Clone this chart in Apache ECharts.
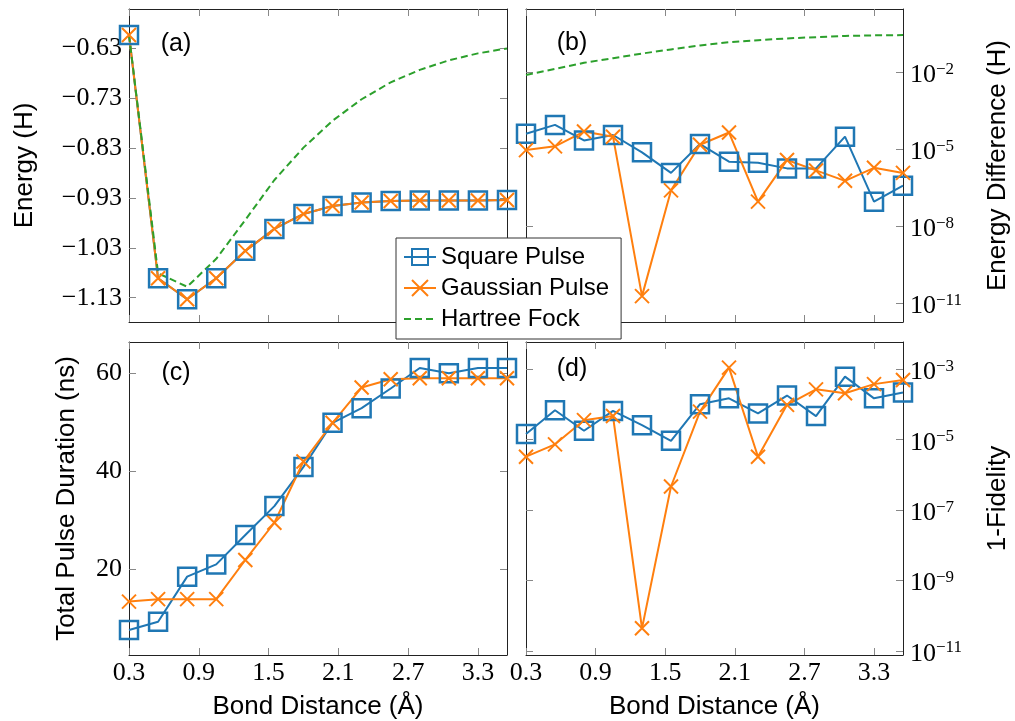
<!DOCTYPE html>
<html>
<head>
<meta charset="utf-8">
<script src="https://cdn.jsdelivr.net/npm/echarts@6/dist/echarts.min.js"></script>
<style>
  html, body { margin: 0; padding: 0; background: #fff; }
  #main { width: 1015px; height: 721px; }
</style>
</head>
<body>
<div id="main"></div>
<script>
// bond distance (Angstrom) shared by all four panels
var bondDistance = [0.3, 0.55, 0.8, 1.05, 1.3, 1.55, 1.8, 2.05, 2.3, 2.55, 2.8, 3.05, 3.3, 3.55];

// (a) energy (H)
var energySquare   = [-0.603, -1.091, -1.133, -1.091, -1.036, -0.992, -0.962, -0.946, -0.939, -0.936, -0.935, -0.935, -0.935, -0.934];
var energyGaussian = [-0.603, -1.091, -1.133, -1.091, -1.036, -0.992, -0.962, -0.946, -0.939, -0.936, -0.935, -0.935, -0.935, -0.934];
var energyHF       = [-0.603, -1.081, -1.108, -1.052, -0.974, -0.894, -0.829, -0.775, -0.732, -0.698, -0.673, -0.654, -0.640, -0.630];

// (b) energy difference (H), log scale
var diffSquare   = [4.0e-5, 8.9e-5, 2.2e-5, 3.6e-5, 7.6e-6, 1.2e-6, 1.6e-5, 3.3e-6, 3.0e-6, 1.8e-6, 1.8e-6, 3.1e-5, 9.1e-8, 3.8e-7];
var diffGaussian = [9.3e-6, 1.3e-5, 4.9e-5, 3.1e-5, 1.9e-11, 2.5e-7, 1.5e-5, 4.5e-5, 9.1e-8, 3.8e-6, 1.5e-6, 5.9e-7, 1.9e-6, 1.2e-6];
var diffHF       = [7.9e-3, 1.35e-2, 2.34e-2, 3.55e-2, 5.37e-2, 7.8e-2, 0.111, 0.149, 0.177, 0.209, 0.234, 0.261, 0.275, 0.282];

// (c) total pulse duration (ns)
var durationSquare   = [7.6, 9.3, 18.5, 21.0, 27.0, 32.9, 40.9, 49.9, 52.9, 56.9, 61.1, 60.0, 61.1, 61.1];
var durationGaussian = [13.4, 13.9, 13.9, 13.9, 21.9, 29.5, 42.0, 49.9, 57.1, 58.8, 59.0, 59.0, 59.0, 59.0];

// (d) 1 - fidelity, log scale
var infidSquare   = [1.45e-5, 6.9e-5, 1.8e-5, 6.6e-5, 2.6e-5, 9.3e-6, 1.02e-4, 1.5e-4, 5.6e-5, 1.8e-4, 4.7e-5, 6.2e-4, 1.5e-4, 2.2e-4];
var infidGaussian = [3.3e-6, 7.4e-6, 3.6e-5, 4.7e-5, 4.4e-11, 4.7e-7, 6.3e-5, 1.12e-3, 3.3e-6, 9.8e-5, 2.7e-4, 2.1e-4, 3.8e-4, 5.0e-4];

// tick labels
var xTicks = [0.3, 0.9, 1.5, 2.1, 2.7, 3.3];
var energyTicks = [-1.13, -1.03, -0.93, -0.83, -0.73, -0.63];
var durationTicks = [20, 40, 60];
var diffExpTicks = [-11, -8, -5, -2];
var infidExpTicks = [-11, -9, -7, -5, -3];

var BLUE = '#1f77b4', ORANGE = '#ff7f0e', GREEN = '#2ca02c';
var SERIF = '"Liberation Serif", serif';
var SANS = '"Liberation Sans", sans-serif';

var grids = [
  {left: 129, top: 9, width: 378, height: 313},
  {left: 526, top: 9, width: 377, height: 313},
  {left: 129, top: 342, width: 378, height: 313},
  {left: 526, top: 342, width: 377, height: 313}
];

function pairs(ys, log) {
  return bondDistance.map(function (x, i) {
    return [x, log ? Math.log10(ys[i]) : ys[i]];
  });
}

function powerLabel(v) {
  return '{b|10}{s|\u2212' + Math.abs(v) + '}';
}

function xAxis(g, pos, showLabel) {
  return {
    type: 'value', gridIndex: g, position: pos, min: 0.3, max: 3.55,
    name: showLabel ? 'Bond Distance (Å)' : '', nameLocation: 'middle', nameGap: 39,
    nameTextStyle: {fontFamily: SANS, fontSize: 26, color: '#000'},
    axisLine: {onZero: false, lineStyle: {color: '#222', width: 1}},
    axisTick: {inside: true, length: 7, customValues: xTicks, lineStyle: {color: '#888'}},
    axisLabel: {show: showLabel, customValues: xTicks, margin: 5, fontFamily: SERIF, fontSize: 26, color: '#000',
      formatter: function (v) { return v.toFixed(1); }},
    splitLine: {show: false}
  };
}

function yAxis(g, pos, min, max, ticks, opts) {
  opts = opts || {};
  var label = {show: !!opts.label, customValues: ticks, margin: 7, fontFamily: SERIF, fontSize: 26, color: '#000'};
  if (opts.log) {
    label.formatter = powerLabel;
    label.padding = [6, 0, 0, 0];
    label.rich = {
      b: {fontFamily: SERIF, fontSize: 26, lineHeight: 26, color: '#000'},
      s: {fontFamily: SERIF, fontSize: 17, lineHeight: 17, color: '#000', padding: [0, 0, 12, 0]}
    };
  } else if (opts.fixed) {
    label.formatter = function (v) { return (v < 0 ? '\u2212' : '') + Math.abs(v).toFixed(opts.fixed); };
  }
  return {
    type: 'value', gridIndex: g, position: pos, min: min, max: max,
    name: opts.name || '', nameLocation: 'middle', nameRotate: 90, nameGap: opts.gap || 50,
    nameTextStyle: {fontFamily: SANS, fontSize: 26, color: '#000'},
    axisLine: {show: true, onZero: false, lineStyle: {color: '#222', width: 1}},
    axisTick: {show: true, inside: true, length: 7, customValues: ticks, lineStyle: {color: '#888'}},
    axisLabel: label,
    splitLine: {show: false}
  };
}

function squareSeries(x, y, data) {
  return {
    name: 'Square Pulse', type: 'line', xAxisIndex: x, yAxisIndex: y, data: data,
    symbol: 'rect', symbolSize: 18,
    lineStyle: {color: BLUE, width: 2},
    itemStyle: {color: 'rgba(0,0,0,0)', borderColor: BLUE, borderWidth: 2.5}
  };
}
function gaussSeries(x, y, data) {
  return {
    name: 'Gaussian Pulse', type: 'line', xAxisIndex: x, yAxisIndex: y, data: data,
    symbol: 'path://M0,0L10,10M10,0L0,10', symbolSize: 14,
    lineStyle: {color: ORANGE, width: 2},
    itemStyle: {color: ORANGE, borderColor: ORANGE, borderWidth: 2}
  };
}
function hfSeries(x, y, data) {
  // symbol kept only so the legend icon is a bare dashed line
  return {
    name: 'Hartree Fock', type: 'line', xAxisIndex: x, yAxisIndex: y, data: data,
    symbol: 'rect', symbolSize: 1, showSymbol: false,
    lineStyle: {color: GREEN, width: 2, type: [7, 4]},
    itemStyle: {color: 'rgba(0,0,0,0)', borderWidth: 0}
  };
}

var panelLabels = [['(a)', 176, 44], ['(b)', 572, 43], ['(c)', 176, 373], ['(d)', 572, 369]];

var option = {
  animation: false,
  backgroundColor: '#fff',
  grid: grids.map(function (g) { return Object.assign({outerBoundsMode: 'none', containLabel: false}, g); }),
  xAxis: [
    xAxis(0, 'bottom', false), xAxis(0, 'top', false),
    xAxis(1, 'bottom', false), xAxis(1, 'top', false),
    xAxis(2, 'bottom', true), xAxis(2, 'top', false),
    xAxis(3, 'bottom', true), xAxis(3, 'top', false)
  ],
  yAxis: [
    yAxis(0, 'left', -1.1787, -0.551, energyTicks, {label: true, fixed: 2, name: 'Energy (H)', gap: 91}),
    yAxis(0, 'right', -1.1787, -0.551, energyTicks),
    yAxis(1, 'left', -11.73, 0.466, diffExpTicks),
    yAxis(1, 'right', -11.73, 0.466, diffExpTicks, {label: true, log: true, name: 'Energy Difference (H)', gap: 82}),
    yAxis(2, 'left', 2.5, 66.4, durationTicks, {label: true, name: 'Total Pulse Duration (ns)', gap: 49}),
    yAxis(2, 'right', 2.5, 66.4, durationTicks),
    yAxis(3, 'left', -11.114, -2.224, infidExpTicks),
    yAxis(3, 'right', -11.114, -2.224, infidExpTicks, {label: true, log: true, name: '1-Fidelity', gap: 82})
  ],
  legend: {
    data: ['Square Pulse', 'Gaussian Pulse', 'Hartree Fock'],
    left: 396, top: 238, orient: 'vertical',
    itemWidth: 32, itemHeight: 20, itemGap: 7,
    padding: [7, 12, 8, 7],
    backgroundColor: '#fff', borderColor: '#333', borderWidth: 1, borderRadius: 0,
    selectedMode: false,
    textStyle: {fontFamily: SANS, fontSize: 24, color: '#000'}
  },
  graphic: panelLabels.map(function (p) {
    return {type: 'text', x: p[1], y: p[2], z: 10,
      style: {text: p[0], fontFamily: SANS, fontSize: 25, fill: '#000', align: 'center', verticalAlign: 'middle'}};
  }),
  series: [
    squareSeries(0, 0, pairs(energySquare)),
    gaussSeries(0, 0, pairs(energyGaussian)),
    hfSeries(0, 0, pairs(energyHF)),
    squareSeries(2, 3, pairs(diffSquare, true)),
    gaussSeries(2, 3, pairs(diffGaussian, true)),
    hfSeries(2, 3, pairs(diffHF, true)),
    squareSeries(4, 4, pairs(durationSquare)),
    gaussSeries(4, 4, pairs(durationGaussian)),
    squareSeries(6, 7, pairs(infidSquare, true)),
    gaussSeries(6, 7, pairs(infidGaussian, true))
  ]
};

var myChart = echarts.init(document.getElementById('main'));
myChart.setOption(option);
</script>
</body>
</html>
